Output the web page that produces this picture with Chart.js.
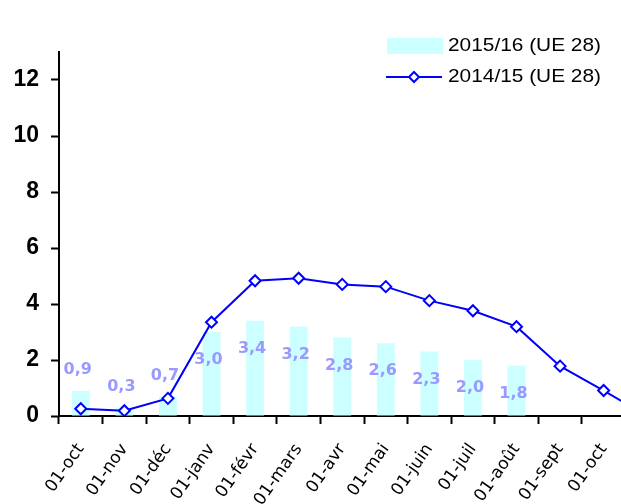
<!DOCTYPE html>
<html>
<head>
<meta charset="utf-8">
<script src="https://cdn.jsdelivr.net/npm/chart.js@4.4.1/dist/chart.umd.min.js"></script>
<style>
html, body { margin: 0; padding: 0; width: 621px; height: 504px; overflow: hidden; background: #fff; }
#wrap { position: absolute; left: 0; top: 0; width: 700px; height: 540px; }
</style>
</head>
<body>
<div id="wrap"><canvas id="chart" width="700" height="540"></canvas></div>
<script>
// the plot runs past the right edge of the picture, so the last category has no label
const months = ['01-oct', '01-nov', '01-déc', '01-janv', '01-févr', '01-mars', '01-avr', '01-mai', '01-juin', '01-juil', '01-août', '01-sept', '01-oct', ''];
const season1516 = [0.9, 0.3, 0.7, 3.0, 3.4, 3.2, 2.8, 2.6, 2.3, 2.0, 1.8, null, null, null];
const season1415 = [0.26, 0.19, 0.63, 3.35, 4.83, 4.92, 4.70, 4.62, 4.12, 3.76, 3.19, 1.78, 0.91, 0.0];
const yLabels = [0, 2, 4, 6, 8, 10, 12];
const seriesNames = ['2015/16 (UE 28)', '2014/15 (UE 28)'];

const CYAN = '#CCFFFF';
const BLUE = '#0000FF';
const LABEL_COLOR = '#9999FF';

const barLabels = {
    id: 'barLabels',
    afterDatasetsDraw(chart) {
        const ctx = chart.ctx;
        const meta = chart.getDatasetMeta(1);
        ctx.save();
        ctx.font = 'bold 16px "DejaVu Sans"';
        ctx.fillStyle = LABEL_COLOR;
        ctx.textAlign = 'center';
        ctx.textBaseline = 'middle';
        meta.data.forEach((bar, i) => {
            const v = season1516[i];
            if (v === null) return;
            const y = v < 1 ? bar.y - 21 : bar.y + 28;
            ctx.fillText(v.toFixed(1).replace('.', ','), bar.x - 3, y);
        });
        ctx.restore();
    }
};

const sideLegend = {
    id: 'sideLegend',
    afterDraw(chart) {
        const ctx = chart.ctx;
        ctx.save();
        // bar entry
        ctx.fillStyle = CYAN;
        ctx.fillRect(387, 38, 56, 16);
        // line entry
        ctx.strokeStyle = BLUE;
        ctx.lineWidth = 2;
        ctx.beginPath();
        ctx.moveTo(386, 77);
        ctx.lineTo(442, 77);
        ctx.stroke();
        ctx.beginPath();
        ctx.moveTo(414, 72);
        ctx.lineTo(419, 77);
        ctx.lineTo(414, 82);
        ctx.lineTo(409, 77);
        ctx.closePath();
        ctx.fillStyle = '#fff';
        ctx.fill();
        ctx.stroke();

        ctx.fillStyle = '#000';
        ctx.font = '19px "Liberation Sans"';
        ctx.textBaseline = 'middle';
        [[seriesNames[0], 46], [seriesNames[1], 77]].forEach(([txt, y]) => {
            const w = ctx.measureText(txt).width;
            ctx.save();
            ctx.translate(448, y);
            ctx.scale(153 / w, 1);
            ctx.fillText(txt, 0, 0);
            ctx.restore();
        });
        ctx.restore();
    }
};

new Chart(document.getElementById('chart'), {
    type: 'bar',
    data: {
        labels: months,
        datasets: [
            {
                type: 'line',
                label: seriesNames[1],
                data: season1415,
                borderColor: BLUE,
                borderWidth: 2,
                pointStyle: 'rectRot',
                pointRadius: 5.5,
                pointBorderWidth: 2,
                pointBorderColor: BLUE,
                pointBackgroundColor: '#fff',
                tension: 0,
                order: 0
            },
            {
                label: seriesNames[0],
                data: season1516,
                backgroundColor: CYAN,
                barPercentage: 0.41,
                categoryPercentage: 1,
                order: 1
            }
        ]
    },
    options: {
        responsive: false,
        animation: false,
        devicePixelRatio: 1,
        layout: { padding: { top: 52, right: 31, left: 0, bottom: 0 } },
        plugins: {
            legend: { display: false },
            tooltip: { enabled: false }
        },
        scales: {
            x: {
                grid: {
                    offset: true,
                    drawOnChartArea: false,
                    tickLength: 8,
                    tickWidth: 2,
                    tickColor: '#000'
                },
                border: { color: '#000', width: 2 },
                ticks: {
                    autoSkip: false,
                    minRotation: 55,
                    maxRotation: 55,
                    padding: 16,
                    color: '#000',
                    font: { family: '"DejaVu Sans"', size: 17 }
                },
                afterFit: (s) => { s.height = 124; }
            },
            y: {
                min: 0,
                max: 13,
                grid: {
                    drawOnChartArea: false,
                    tickLength: 8,
                    tickWidth: 2,
                    tickColor: '#000'
                },
                border: { color: '#000', width: 2 },
                ticks: {
                    stepSize: 1,
                    padding: 12,
                    color: '#000',
                    font: { family: '"Liberation Sans"', size: 23, weight: 'bold' },
                    callback: (v) => yLabels.includes(v) ? v : ''
                },
                afterFit: (s) => { s.width = 59; }
            }
        }
    },
    plugins: [barLabels, sideLegend]
});
</script>
</body>
</html>
